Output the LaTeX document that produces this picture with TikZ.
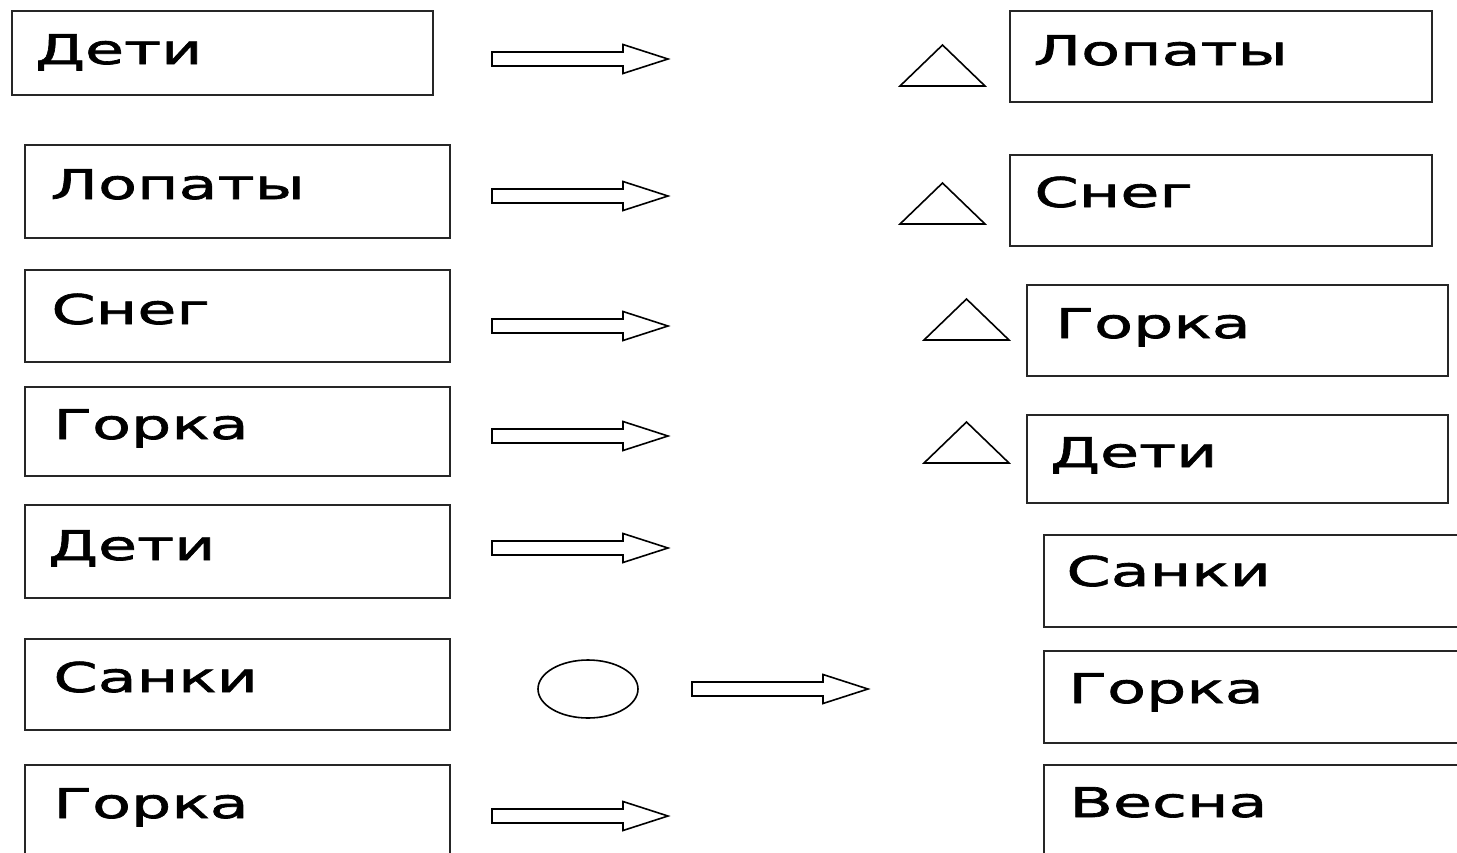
\documentclass[tikz,border=0pt]{standalone}
\usepackage{fontspec}
\setmainfont{DejaVu Sans}[FakeStretch=1.55,FakeBold=1.6]
\usetikzlibrary{fit,shapes.geometric}
\begin{document}
\begin{tikzpicture}[x=0.5pt,y=-0.5pt,
  box/.style={draw=black!85,line width=1.2pt,inner sep=0pt,rectangle},
  lbl/.style={inner sep=0pt,anchor=base west,font=\fontsize{20.5}{24}\selectfont},
  thinline/.style={draw=black,line width=0.8pt,fill=white},
  bigarrow/.pic={\draw[thinline] (0,-7) -- (131,-7) -- (131,-14.5) -- (176,0) -- (131,14.5) -- (131,7) -- (0,7) -- cycle;},
  tri/.pic={\draw[thinline] (0,0) -- (42.5,-41) -- (85,0) -- cycle;}
]
\clip (0,0) rectangle (1457,852);
\fill[white] (0,0) rectangle (1457,852);
% left column boxes
\node[box,fit={(12,11) (433,95)}] (L1) {};
\node[box,fit={(25,145) (450,238)}] (L2) {};
\node[box,fit={(25,270) (450,362)}] (L3) {};
\node[box,fit={(25,387) (450,476)}] (L4) {};
\node[box,fit={(25,505) (450,598)}] (L5) {};
\node[box,fit={(25,639) (450,730)}] (L6) {};
\node[box,fit={(25,765) (450,880)}] (L7) {};
\node[lbl] (tL1) at (35,64) {Дети};
\node[lbl] (tL2) at (50,199) {Лопаты};
\node[lbl] (tL3) at (51,324) {Снег};
\node[lbl] (tL4) at (53,439) {Горка};
\node[lbl] (tL5) at (48,560) {Дети};
\node[lbl] (tL6) at (53,692) {Санки};
\node[lbl] (tL7) at (53,818) {Горка};
% right column boxes
\node[box,fit={(1010,11) (1432,102)}] (R1) {};
\node[box,fit={(1010,155) (1432,246)}] (R2) {};
\node[box,fit={(1027,285) (1448,376)}] (R3) {};
\node[box,fit={(1027,415) (1448,503)}] (R4) {};
\node[box,fit={(1044,535) (1480,627)}] (R5) {};
\node[box,fit={(1044,651) (1480,743)}] (R6) {};
\node[box,fit={(1044,765) (1480,880)}] (R7) {};
\node[lbl] (tR1) at (1033,65) {Лопаты};
\node[lbl] (tR2) at (1034,207) {Снег};
\node[lbl] (tR3) at (1055,338) {Горка};
\node[lbl] (tR4) at (1050,467) {Дети};
\node[lbl] (tR5) at (1066,586) {Санки};
\node[lbl] (tR6) at (1068,703) {Горка};
\node[lbl] (tR7) at (1069,817) {Весна};
% arrows
\pic at (492,59) {bigarrow};
\pic at (492,196) {bigarrow};
\pic at (492,326) {bigarrow};
\pic at (492,436) {bigarrow};
\pic at (492,548) {bigarrow};
\pic at (692,689) {bigarrow};
\pic at (492,816) {bigarrow};
% circle
\node[draw=black,line width=0.8pt,ellipse,inner sep=0pt,minimum width=50pt,minimum height=29pt] (C) at (588,689) {};
% triangles
\pic at (900,86) {tri};
\pic at (900,224) {tri};
\pic at (924,340) {tri};
\pic at (924,463) {tri};
\end{tikzpicture}
\end{document}
